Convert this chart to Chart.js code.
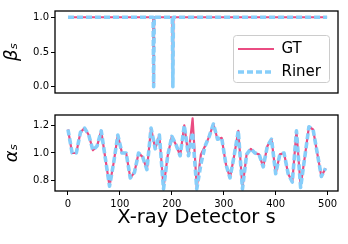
<!DOCTYPE html>
<html>
<head>
<meta charset="utf-8">
<script src="https://cdn.jsdelivr.net/npm/chart.js@4.4.1/dist/chart.umd.min.js"></script>
<style>
  html, body { margin: 0; padding: 0; background: #fff; }
  #wrap { position: relative; width: 348px; height: 244px; }
  canvas { position: absolute; left: 0; }
  #top { top: 0; }
  #bot { top: 102px; }
</style>
</head>
<body>
<div id="wrap">
  <canvas id="top" width="348" height="102"></canvas>
  <canvas id="bot" width="348" height="142"></canvas>
</div>
<script>
// beta_s : 1 partout sauf deux détecteurs à 0
const betaX = [0, 164, 165, 166, 201, 202, 203, 499];
const betaGT = [1, 1, 0, 1, 1, 0, 1, 1];
const betaRiner = [1, 1, 0, 1, 1, 0, 1, 1];

// alpha_s, un point tous les 8 détecteurs
const detX = [0, 8, 16, 24, 32, 40, 48, 56, 64, 72, 80, 88, 96, 104, 112, 120, 128, 136, 144, 152,
  160, 168, 176, 184, 192, 200, 208, 216, 224, 232, 240, 248, 256, 264, 272, 280, 288, 296, 304, 312,
  320, 328, 336, 344, 352, 360, 368, 376, 384, 392, 400, 408, 416, 424, 432, 440, 448, 456, 464, 472,
  480, 488, 496];
const alphaGT = [1.17, 1.00, 1.00, 1.15, 1.18, 1.13, 1.02, 1.05, 1.16, 0.96,
  0.76, 0.93, 1.13, 1.00, 1.00, 0.82, 0.86, 1.00, 0.97, 0.88,
  1.18, 1.03, 1.13, 0.75, 0.98, 1.12, 1.06, 0.98, 1.20, 0.98,
  1.25, 0.75, 0.99, 1.05, 1.12, 1.21, 1.10, 1.11, 0.92, 0.82,
  0.98, 1.16, 0.75, 0.99, 1.03, 1.00, 0.99, 0.90, 1.05, 1.10,
  0.85, 0.99, 1.00, 0.85, 0.79, 1.16, 0.76, 0.97, 1.19, 1.17,
  1.00, 0.83, 0.89];
const alphaRiner = [1.17, 1.00, 1.00, 1.15, 1.18, 1.13, 1.02, 1.05, 1.16, 0.96,
  0.76, 0.93, 1.13, 1.00, 1.00, 0.82, 0.86, 1.00, 0.97, 0.88,
  1.18, 1.03, 1.13, 0.74, 0.98, 1.12, 1.06, 0.98, 1.20, 0.98,
  1.15, 0.74, 0.92, 1.05, 1.12, 1.21, 1.10, 1.11, 0.92, 0.82,
  0.98, 1.16, 0.74, 0.99, 1.03, 1.00, 0.99, 0.90, 1.05, 1.10,
  0.85, 0.99, 1.00, 0.85, 0.79, 1.16, 0.75, 0.97, 1.19, 1.17,
  1.00, 0.83, 0.89];

// graduations
const betaTicks = [0.0, 0.5, 1.0];
const alphaTicks = [0.8, 1.0, 1.2];
const xTicks = [0, 100, 200, 300, 400, 500];

const PINK = '#ea4c82';
const BLUE = '#87cefa';

Chart.defaults.font.family = "'DejaVu Sans', sans-serif";
Chart.defaults.color = '#000';

function pts(xs, ys) {
  return xs.map((x, i) => ({ x: x, y: ys[i] }));
}

// cadre noir autour de la zone de tracé (comme matplotlib)
const frame = {
  id: 'frame',
  afterDraw(chart) {
    const a = chart.chartArea, c = chart.ctx;
    c.save();
    c.strokeStyle = '#000';
    c.lineWidth = 1.3;
    c.strokeRect(a.left, a.top, a.right - a.left, a.bottom - a.top);
    c.restore();
  }
};

// légende déplacée dans le coin droit + son cadre arrondi
const legendBox = {
  id: 'legendBox',
  afterLayout(chart) {
    const lg = chart.legend;
    if (!lg || !lg.options.display) return;
    lg.left = 230; lg.top = 33.5;
    lg.right = lg.left + lg.width;
    lg.bottom = lg.top + lg.height;
  },
  beforeDraw(chart) {
    if (!chart.options.plugins.legend.display) return;
    const c = chart.ctx;
    c.save();
    c.fillStyle = 'rgba(255,255,255,0.8)';
    c.strokeStyle = '#cccccc';
    c.lineWidth = 1;
    c.beginPath();
    c.roundRect(233.5, 35.5, 96, 47, 3);
    c.fill();
    c.stroke();
    c.restore();
  }
};

function yScale(min, max, ticks, title) {
  return {
    min: min, max: max,
    afterBuildTicks: s => { s.ticks = ticks.map(v => ({ value: v })); },
    afterFit: s => { s.width = 55; },
    ticks: { callback: v => v.toFixed(1), font: { size: 10 }, padding: 2 },
    grid: { drawOnChartArea: false, tickLength: 4, color: '#000' },
    border: { display: false },
    title: { display: true, text: title, font: { size: 18, style: 'italic' }, padding: { top: 2, bottom: 0 } }
  };
}

function lineSets(xs, gt, riner) {
  return [
    { label: 'GT', data: pts(xs, gt), borderColor: PINK, backgroundColor: PINK,
      borderWidth: 2.2, borderJoinStyle: 'round', pointRadius: 0, tension: 0, order: 1 },
    { label: 'Riner', data: pts(xs, riner), borderColor: BLUE, backgroundColor: BLUE,
      borderWidth: 3.6, borderDash: [6, 3], borderJoinStyle: 'round', pointRadius: 0, tension: 0, order: 0 }
  ];
}

// éléments de légende : trait de la série avec son pointillé
function legendLabels(chart) {
  const items = Chart.defaults.plugins.legend.labels.generateLabels(chart);
  items.forEach(it => {
    const ds = chart.data.datasets[it.datasetIndex];
    it.lineDash = ds.borderDash || [];
    it.lineWidth = ds.borderWidth;
    it.strokeStyle = ds.borderColor;
  });
  return items;
}

new Chart(document.getElementById('top'), {
  type: 'line',
  data: { datasets: lineSets(betaX, betaGT, betaRiner) },
  options: {
    responsive: false, animation: false, devicePixelRatio: 1,
    layout: { padding: { top: 11, right: 10, bottom: 9, left: 0 } },
    plugins: {
      tooltip: { enabled: false },
      legend: {
        display: true, position: 'chartArea', align: 'start',
        labels: {
          usePointStyle: true, pointStyle: 'line', pointStyleWidth: 36,
          font: { size: 15 }, padding: 8, color: '#000',
          generateLabels: legendLabels,
          sort: (a, b) => a.datasetIndex - b.datasetIndex
        }
      }
    },
    scales: {
      x: { type: 'linear', min: -25, max: 520, display: false },
      y: yScale(-0.09, 1.09, betaTicks, 'βₛ')
    }
  },
  plugins: [legendBox, frame]
});

new Chart(document.getElementById('bot'), {
  type: 'line',
  data: { datasets: lineSets(detX, alphaGT, alphaRiner) },
  options: {
    responsive: false, animation: false, devicePixelRatio: 1,
    layout: { padding: { top: 13, right: 10, bottom: 0, left: 0 } },
    plugins: { tooltip: { enabled: false }, legend: { display: false } },
    scales: {
      x: {
        type: 'linear', min: -25, max: 520,
        afterBuildTicks: s => { s.ticks = xTicks.map(v => ({ value: v })); },
        afterFit: s => { s.height = 53; },
        ticks: { font: { size: 10 }, padding: 3, maxRotation: 0 },
        grid: { drawOnChartArea: false, tickLength: 4, color: '#000' },
        border: { display: false },
        title: { display: true, text: 'X-ray Detector s', font: { size: 19.5 }, padding: { top: 0, bottom: 14 } }
      },
      y: yScale(0.725, 1.275, alphaTicks, 'αₛ')
    }
  },
  plugins: [legendBox, frame]
});
</script>
</body>
</html>
